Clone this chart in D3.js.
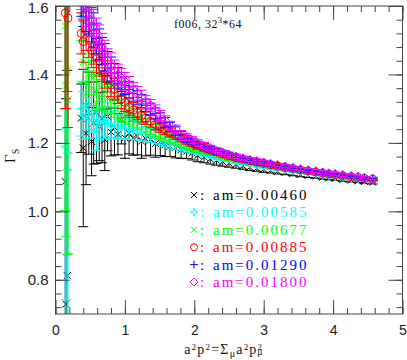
<!DOCTYPE html>
<html><head><meta charset="utf-8">
<script src="https://cdn.jsdelivr.net/npm/d3@7"></script>
<style>body{margin:0;background:#fff}svg{display:block}</style>
</head><body>
<svg id="c" width="407" height="360"></svg>
<script>
// ---- data ----
const xVals = [0.14,0.15,0.17,0.18,
 0.37,0.40,0.44,0.48,0.52,0.55,0.59,0.63,0.67,0.71,
 0.75,0.80,0.85,0.90,0.95,1.00,1.06,1.12,1.18,1.24,
 1.30,1.37,1.44,1.51,1.58,1.65,1.73,1.81,1.89,1.97,
 2.05,2.14,2.23,2.32,2.41,2.50,2.60,2.70,2.80,2.90,
 3.00,3.10,3.20,3.31,3.42,3.53,3.64,3.75,3.85,3.94,
 4.03,4.14,4.26,4.36,4.45,4.57];

const labels = ["am=0.00460","am=0.00585","am=0.00677","am=0.00885","am=0.01290","am=0.01800"];
const colors = ["#000000","#00ffff","#00ff00","#ff0000","#0000ff","#ff00ff"];
const markers = ["cross","star","cross","circle","plus","diamond"];

const vBlack = [1.087,0.729,0.812,null,
 1.272,1.185,1.228,1.287,1.204,1.258,1.290,1.248,1.272,1.209,
 1.277,1.232,1.245,1.225,1.267,1.215,1.228,1.214,1.220,1.205,
 1.212,1.209,1.198,1.203,1.195,1.190,1.186,1.180,1.176,1.170,
 1.163,1.158,1.153,1.149,1.145,1.141,1.137,1.133,1.129,1.126,
 1.123,1.120,1.117,1.114,1.111,1.108,1.105,1.103,1.100,1.098,
 1.096,1.093,1.091,1.089,1.087,1.085];
const eBlack = [0.6,0.6,0.6,0,
 0.10,0.23,0.15,0.12,0.10,0.12,0.15,0.10,0.13,0.09,
 0.10,0.07,0.08,0.06,0.07,0.06,0.06,0.05,0.055,0.05,
 0.05,0.045,0.04,0.04,0.035,0.03,0.03,0.025,0.022,0.02,
 0.018,0.016,0.015,0.014,0.013,0.012,0.011,0.010,0.010,0.009,
 0.009,0.008,0.008,0.007,0.007,0.007,0.006,0.006,0.006,0.006,
 0.005,0.005,0.005,0.005,0.005,0.005];

const vCyan = [1.189,1.243,1.121,1.170,
 1.300,1.280,1.310,1.272,1.290,1.265,1.238,1.258,1.270,1.258,
 1.262,1.250,1.255,1.248,1.245,1.243,1.240,1.238,1.235,1.230,
 1.226,1.222,1.216,1.212,1.207,1.201,1.196,1.191,1.186,1.181,
 1.176,1.171,1.166,1.161,1.157,1.153,1.148,1.144,1.140,1.136,
 1.132,1.129,1.126,1.122,1.119,1.116,1.113,1.110,1.107,1.105,
 1.102,1.100,1.097,1.095,1.093,1.091];
const eCyan = [0.5,0.5,0.5,0.5,
 0.08,0.07,0.07,0.06,0.06,0.05,0.06,0.05,0.05,0.045,
 0.045,0.04,0.04,0.035,0.035,0.03,0.03,0.028,0.026,0.024,
 0.022,0.02,0.019,0.018,0.017,0.016,0.015,0.014,0.013,0.012,
 0.011,0.010,0.010,0.009,0.009,0.008,0.008,0.007,0.007,0.007,
 0.006,0.006,0.006,0.006,0.005,0.005,0.005,0.005,0.005,0.004,
 0.004,0.004,0.004,0.004,0.004,0.004];

const vGreen = [1.542,1.367,1.413,1.326,
 1.570,1.437,1.375,1.400,1.360,1.390,1.350,1.370,1.340,1.350,
 1.330,1.325,1.310,1.305,1.295,1.290,1.283,1.275,1.268,1.262,
 1.252,1.244,1.236,1.229,1.222,1.215,1.208,1.201,1.195,1.189,
 1.183,1.177,1.172,1.167,1.162,1.157,1.152,1.148,1.144,1.140,
 1.136,1.132,1.129,1.125,1.122,1.119,1.116,1.113,1.110,1.107,
 1.105,1.102,1.099,1.097,1.095,1.092];
const eGreen = [0.54,0.44,0.54,0.45,
 0.07,0.06,0.06,0.06,0.05,0.05,0.05,0.05,0.045,0.045,
 0.04,0.04,0.035,0.035,0.03,0.03,0.028,0.026,0.024,0.022,
 0.02,0.019,0.018,0.017,0.016,0.015,0.014,0.013,0.012,0.011,
 0.010,0.010,0.009,0.009,0.008,0.008,0.007,0.007,0.007,0.006,
 0.006,0.006,0.006,0.005,0.005,0.005,0.005,0.005,0.004,0.004,
 0.004,0.004,0.004,0.004,0.004,0.004];

const vRed = [1.580,1.700,1.800,1.565,
 1.520,1.496,1.530,1.500,1.470,1.480,1.450,1.440,1.420,1.400,
 1.384,1.370,1.358,1.345,1.328,1.318,1.305,1.296,1.288,1.280,
 1.272,1.263,1.254,1.246,1.238,1.230,1.222,1.214,1.206,1.199,
 1.192,1.185,1.179,1.173,1.168,1.162,1.157,1.152,1.148,1.144,
 1.140,1.136,1.132,1.128,1.125,1.121,1.118,1.115,1.112,1.109,
 1.107,1.104,1.101,1.099,1.096,1.094];
const eRed = [0.28,0.40,0.45,0.32,
 0.06,0.06,0.06,0.05,0.05,0.05,0.045,0.045,0.04,0.04,
 0.035,0.035,0.03,0.03,0.028,0.026,0.024,0.022,0.02,0.019,
 0.018,0.017,0.016,0.015,0.014,0.013,0.012,0.011,0.010,0.010,
 0.009,0.009,0.008,0.008,0.007,0.007,0.007,0.006,0.006,0.006,
 0.006,0.005,0.005,0.005,0.005,0.005,0.004,0.004,0.004,0.004,
 0.004,0.004,0.004,0.003,0.003,0.003];

const vBlue = [null,null,null,null,
 1.630,1.600,1.585,1.565,1.545,1.530,1.505,1.488,1.468,1.450,
 1.432,1.416,1.402,1.390,1.378,1.367,1.356,1.344,1.333,1.322,
 1.310,1.299,1.286,1.273,1.260,1.247,1.235,1.222,1.212,1.204,
 1.196,1.189,1.182,1.175,1.170,1.164,1.158,1.154,1.149,1.145,
 1.141,1.138,1.134,1.130,1.126,1.122,1.119,1.116,1.113,1.110,
 1.108,1.105,1.102,1.100,1.097,1.095];
const eBlue = [0,0,0,0,
 0.06,0.06,0.06,0.05,0.05,0.05,0.045,0.045,0.04,0.04,
 0.035,0.035,0.03,0.03,0.028,0.026,0.024,0.022,0.02,0.019,
 0.018,0.017,0.016,0.015,0.014,0.013,0.012,0.011,0.010,0.010,
 0.009,0.009,0.008,0.008,0.007,0.007,0.007,0.006,0.006,0.006,
 0.006,0.005,0.005,0.005,0.005,0.005,0.004,0.004,0.004,0.004,
 0.004,0.004,0.004,0.003,0.003,0.003];

const vMagenta = [null,null,null,null,
 1.650,1.620,1.600,1.580,1.560,1.540,1.520,1.500,1.480,1.460,
 1.440,1.428,1.412,1.400,1.390,1.380,1.370,1.355,1.345,1.335,
 1.320,1.310,1.295,1.280,1.265,1.250,1.240,1.225,1.217,1.208,
 1.200,1.192,1.185,1.178,1.172,1.166,1.160,1.155,1.151,1.147,
 1.143,1.139,1.135,1.131,1.127,1.123,1.120,1.117,1.114,1.111,
 1.109,1.106,1.103,1.101,1.098,1.096];
const eMagenta = [0,0,0,0,
 0.06,0.06,0.06,0.05,0.05,0.05,0.045,0.045,0.04,0.04,
 0.035,0.035,0.03,0.03,0.028,0.026,0.024,0.022,0.02,0.019,
 0.018,0.017,0.016,0.015,0.014,0.013,0.012,0.011,0.010,0.010,
 0.009,0.009,0.008,0.008,0.007,0.007,0.007,0.006,0.006,0.006,
 0.006,0.005,0.005,0.005,0.005,0.005,0.004,0.004,0.004,0.004,
 0.004,0.004,0.004,0.003,0.003,0.003];

const seriesVals = [vBlack,vCyan,vGreen,vRed,vBlue,vMagenta];
const seriesErrs = [eBlack,eCyan,eGreen,eRed,eBlue,eMagenta];

const xTicks = [0,1,2,3,4,5];
const yTicks = [0.8,1.0,1.2,1.4,1.6];
const xMinor = d3.range(0,5.001,0.2);
const yMinor = d3.range(0.72,1.601,0.04);

// ---- layout ----
const svg = d3.select("#c");
const x = d3.scaleLinear([0,5],[55.5,402.5]);
const y = d3.scaleLinear([0.7,1.6],[314,6]);
const axisCol = "#444";

svg.append("defs").append("clipPath").attr("id","clip")
  .append("rect").attr("x",x(0)).attr("y",y(1.6)).attr("width",x(5)-x(0)).attr("height",y(0.7)-y(1.6));

function markerPath(type, s){
  switch(type){
    case "cross": return `M${-s},${-s}L${s},${s}M${-s},${s}L${s},${-s}`;
    case "plus": return `M${-s-1},0H${s+1}M0,${-s-1}V${s+1}`;
    case "diamond": return `M0,${-s-1}L${s+1},0L0,${s+1}L${-s-1},0Z`;
    case "star": return `M0,${-s-1}L1,-1L${s+1},0L1,1L0,${s+1}L-1,1L${-s-1},0L-1,-1Z`;
    default: return "";
  }
}

const plot = svg.append("g").attr("clip-path","url(#clip)");
seriesVals.forEach((vals,si)=>{
  const col = colors[si];
  const data = xVals.map((xv,i)=>({x:xv,v:vals[i],e:seriesErrs[si][i]||0})).filter(d=>d.v!=null);
  const g = plot.append("g").attr("stroke",col).attr("fill","none").attr("stroke-width",1);
  data.forEach(d=>{
    const px = x(d.x);
    if(d.e>0){
      g.append("line").attr("x1",px).attr("x2",px).attr("y1",y(d.v-d.e)).attr("y2",y(d.v+d.e));
      g.append("line").attr("x1",px-5).attr("x2",px+5).attr("y1",y(d.v-d.e)).attr("y2",y(d.v-d.e));
      g.append("line").attr("x1",px-5).attr("x2",px+5).attr("y1",y(d.v+d.e)).attr("y2",y(d.v+d.e));
    }
    if(markers[si]==="circle"){
      g.append("circle").attr("cx",px).attr("cy",y(d.v)).attr("r",4);
    } else {
      g.append("path").attr("transform",`translate(${px},${y(d.v)})`).attr("d",markerPath(markers[si],3.5));
    }
  });
});

// ---- axes ----
function styleAxis(g){
  g.select(".domain").remove();
  g.selectAll(".tick line").attr("stroke",axisCol);
  g.selectAll("text").attr("fill","#222").style("font-family","'Liberation Sans',Arial,sans-serif").style("font-size","14px");
}
const H = y(0.7), T = y(1.6), L = x(0), R = x(5);
svg.append("g").attr("transform",`translate(0,${H})`).call(d3.axisBottom(x).tickValues(xMinor).tickSize(-6).tickFormat("")).call(styleAxis);
svg.append("g").attr("transform",`translate(0,${H})`).call(d3.axisBottom(x).tickValues(xTicks).tickSize(-14).tickPadding(11).tickFormat(d3.format("d"))).call(styleAxis);
svg.append("g").attr("transform",`translate(0,${T})`).call(d3.axisTop(x).tickValues(xMinor).tickSize(-6).tickFormat("")).call(styleAxis);
svg.append("g").attr("transform",`translate(0,${T})`).call(d3.axisTop(x).tickValues(xTicks).tickSize(-14).tickFormat("")).call(styleAxis);
svg.append("g").attr("transform",`translate(${L},0)`).call(d3.axisLeft(y).tickValues(yMinor).tickSize(-6).tickFormat("")).call(styleAxis);
const yAx = svg.append("g").attr("transform",`translate(${L},0)`).call(d3.axisLeft(y).tickValues(yTicks).tickSize(-14).tickPadding(7).tickFormat(d3.format(".1f"))).call(styleAxis);
yAx.selectAll(".tick text").style("font-size","15px").filter(d=>d===1.6).attr("y",2);
svg.append("g").attr("transform",`translate(${R},0)`).call(d3.axisRight(y).tickValues(yMinor).tickSize(-6).tickFormat("")).call(styleAxis);
svg.append("g").attr("transform",`translate(${R},0)`).call(d3.axisRight(y).tickValues(yTicks).tickSize(-14).tickFormat("")).call(styleAxis);
svg.append("rect").attr("x",L).attr("y",T).attr("width",R-L).attr("height",H-T)
  .attr("fill","none").attr("stroke",axisCol).attr("stroke-width",1);

// ---- texts ----
const serif = "'Liberation Serif','Times New Roman',serif";
const title = svg.append("text").attr("x",208).attr("y",28).attr("text-anchor","middle")
  .style("font-family",serif).style("font-size","12px").style("letter-spacing","0.5px").attr("fill","#111");
title.append("tspan").text("f006, 32");
title.append("tspan").attr("dy",-5).style("font-size","8px").text("3");
title.append("tspan").attr("dy",5).text("*64");

const xl = svg.append("text").attr("x",224).attr("y",354).attr("text-anchor","middle")
  .style("font-family",serif).style("font-size","14px").style("letter-spacing","1.2px").attr("fill","#111");
xl.append("tspan").text("a");
xl.append("tspan").attr("dy",-4).style("font-size","9px").text("2");
xl.append("tspan").attr("dy",4).text("p");
xl.append("tspan").attr("dy",-4).style("font-size","9px").text("2");
xl.append("tspan").attr("dy",4).text("=Σ");
xl.append("tspan").attr("dy",3).style("font-size","10px").text("μ");
xl.append("tspan").attr("dy",-3).text("a");
xl.append("tspan").attr("dy",-4).style("font-size","9px").text("2");
xl.append("tspan").attr("dy",4).text("p");
xl.append("tspan").attr("dy",-4).style("font-size","9px").text("2");
xl.append("tspan").attr("dy",5).attr("dx",-6).style("font-size","10px").text("μ");

const yl = svg.append("text").attr("transform","translate(15,163) rotate(-90)")
  .style("font-family",serif).style("font-size","15px").attr("fill","#111");
yl.append("tspan").text("Γ");
yl.append("tspan").attr("dy",4).style("font-size","10px").text("S");

// ---- legend ----
const leg = svg.append("g");
labels.forEach((lab,i)=>{
  const cy = 195 + i*17.4;
  const g = leg.append("g");
  if(markers[i]==="circle"){
    g.append("circle").attr("cx",194).attr("cy",cy).attr("r",3.5).attr("fill","none").attr("stroke",colors[i]);
  } else {
    g.append("path").attr("transform",`translate(194,${cy})`).attr("d",markerPath(markers[i],3)).attr("fill","none").attr("stroke",colors[i]);
  }
  g.append("text").attr("x",200).attr("y",cy+5).text(":").attr("fill",colors[i])
    .style("font-family",serif).style("font-size","15px");
  g.append("text").attr("x",213).attr("y",cy+5).text(lab).attr("fill",colors[i])
    .style("font-family",serif).style("font-size","15px").style("letter-spacing","2px");
});
</script>
</body></html>
